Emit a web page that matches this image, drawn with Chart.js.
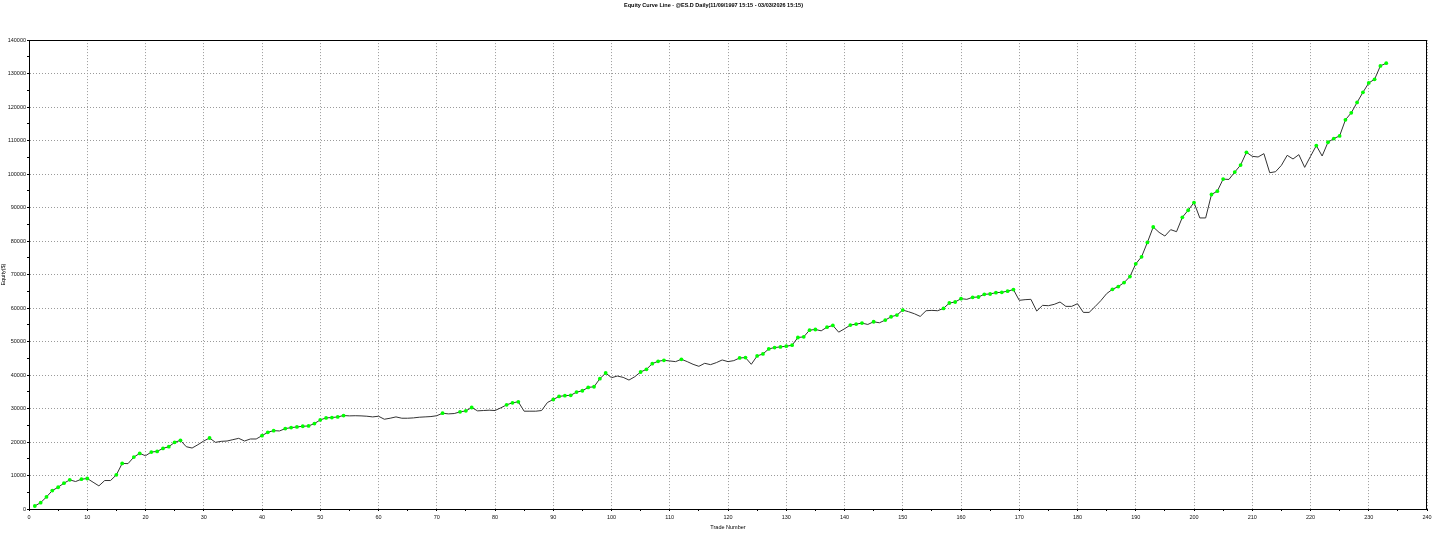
<!DOCTYPE html>
<html>
<head>
<meta charset="utf-8">
<script src="https://cdn.jsdelivr.net/npm/chart.js@4/dist/chart.umd.min.js"></script>
<style>
  html, body { margin: 0; padding: 0; background: #ffffff; }
  #wrap { width: 1456px; height: 535px; }
</style>
</head>
<body>
<div id="wrap"><canvas id="c" width="1456" height="535"></canvas></div>
<script>
const chartTitle = "Equity Curve Line - @ES.D Daily(11/09/1997 15:15 - 03/03/2026 15:15)";
const xAxisTitle = "Trade Number";
const yAxisTitle = "Equity($)";

// Cumulative equity after each trade (trade 1 .. 233)
const equity = [
  900, 1900, 3600, 5500, 6500, 7700, 8700, 8200, 8900, 9100,
  8000, 6900, 8500, 8500, 10200, 13600, 13550, 15500, 16600, 15900,
  17000, 17200, 18100, 18600, 19900, 20500, 18600, 18200, 19200, 20300,
  21200, 19900, 20200, 20300, 20700, 21100, 20300, 20900, 20900, 21900,
  22900, 23400, 23300, 24000, 24300, 24500, 24700, 24800, 25500, 26600,
  27200, 27300, 27500, 27900, 27800, 27850, 27800, 27700, 27500, 27700,
  26800, 27100, 27500, 27100, 27100, 27200, 27400, 27500, 27600, 27850,
  28600, 28400, 28500, 29000, 29300, 30300, 29300, 29400, 29500, 29400,
  30200, 31100, 31700, 32000, 29200, 29200, 29200, 29400, 31800, 32700,
  33600, 33850, 33950, 34900, 35300, 36300, 36500, 38900, 40600, 39200,
  39700, 39300, 38500, 39500, 40900, 41700, 43400, 44100, 44400, 44200,
  44000, 44700, 44000, 43200, 42600, 43500, 43100, 43700, 44500, 44000,
  44300, 45100, 45200, 43200, 45700, 46300, 47800, 48200, 48400, 48600,
  48900, 51200, 51400, 53400, 53600, 53200, 54300, 54800, 52800, 53800,
  54900, 55200, 55500, 55100, 55900, 55600, 56400, 57400, 57900, 59400,
  58900, 58300, 57500, 59200, 59300, 59200, 59900, 61500, 61800, 62800,
  62600, 63200, 63300, 64100, 64200, 64600, 64700, 65050, 65500, 62300,
  62500, 62600, 59100, 60800, 60700, 61100, 61800, 60500, 60500, 61300,
  58700, 58700, 60400, 62200, 64300, 65600, 66400, 67600, 69400, 73200,
  75300, 79600, 84200, 82600, 81500, 83400, 82800, 87100, 89200, 91500,
  86900, 86900, 93900, 94900, 98500, 98400, 100600, 102700, 106500, 105300,
  105100, 106100, 100400, 100700, 102600, 105600, 104500, 105800, 102000, 105300,
  108500, 105400, 109500, 110600, 111400, 116200, 118300, 121400, 124400, 127200,
  128300, 132300, 133100
];

const xTicks = { min: 0, max: 240, major: 10, minor: 5 };
const yTicks = { min: 0, max: 140000, major: 10000, minor: 5000 };

// points: {x: trade number, y: equity}
const points = equity.map((v, i) => ({ x: i + 1, y: v }));
// green markers on new equity highs
const newHigh = [];
let runMax = -Infinity;
equity.forEach(v => { newHigh.push(v > runMax); if (v > runMax) runMax = v; });

const FONT = "'Liberation Sans', Arial, sans-serif";

const frame = {
  id: 'frame',
  afterDraw(chart) {
    const { ctx, chartArea: a } = chart;
    ctx.save();
    ctx.strokeStyle = '#000';
    ctx.lineWidth = 1;
    ctx.strokeRect(Math.round(a.left) + 0.5, Math.round(a.top) + 0.5,
                   Math.round(a.right - a.left) - 1, Math.round(a.bottom - a.top));
    ctx.restore();
  }
};

new Chart(document.getElementById('c'), {
  type: 'line',
  data: {
    datasets: [{
      data: points,
      borderColor: '#333333',
      borderWidth: 1,
      tension: 0,
      pointBackgroundColor: '#00ff00',
      pointBorderColor: '#00ff00',
      pointBorderWidth: 0,
      pointRadius: c => newHigh[c.dataIndex] ? 1.9 : 0,
      pointHoverRadius: 0,
      fill: false
    }]
  },
  options: {
    responsive: false,
    animation: false,
    events: [],
    layout: { padding: { left: 0, right: 29, top: 0, bottom: 0 } },
    plugins: {
      legend: { display: false },
      tooltip: { enabled: false },
      title: {
        display: true,
        text: chartTitle,
        color: '#000',
        font: { family: FONT, size: 5.5, weight: 'bold', lineHeight: 1.2 },
        padding: { top: 2, bottom: 31.5 }
      }
    },
    scales: {
      x: {
        type: 'linear',
        min: xTicks.min, max: xTicks.max,
        afterFit: s => { s.height = 26; },
        afterBuildTicks: s => {
          const t = [];
          for (let v = xTicks.min; v <= xTicks.max; v += xTicks.minor) t.push({ value: v });
          s.ticks = t;
        },
        ticks: {
          autoSkip: false, maxRotation: 0, padding: 3,
          color: '#111',
          font: { family: FONT, size: 5.5 },
          callback: v => (v % xTicks.major === 0 ? String(v) : '')
        },
        grid: {
          color: c => (c.tick && c.tick.value % xTicks.major === 0 ? '#9a9a9a' : 'rgba(0,0,0,0)'),
          lineWidth: 1,
          tickColor: '#000',
          tickLength: 2
        },
        border: { color: '#000', width: 1, dash: [1, 2] },
        title: {
          display: true, text: xAxisTitle, color: '#000',
          font: { family: FONT, size: 5.5 },
          padding: { top: 0, bottom: 4 }
        }
      },
      y: {
        type: 'linear',
        min: yTicks.min, max: yTicks.max,
        afterFit: s => { s.width = 29; },
        afterBuildTicks: s => {
          const t = [];
          for (let v = yTicks.min; v <= yTicks.max; v += yTicks.minor) t.push({ value: v });
          s.ticks = t;
        },
        ticks: {
          autoSkip: false, padding: 1,
          color: '#111',
          font: { family: FONT, size: 5.5 },
          callback: v => (v % yTicks.major === 0 ? String(v) : '')
        },
        grid: {
          color: c => (c.tick && c.tick.value % yTicks.major === 0 ? '#9a9a9a' : 'rgba(0,0,0,0)'),
          lineWidth: 1,
          tickColor: '#000',
          tickLength: 2
        },
        border: { color: '#000', width: 1, dash: [1, 2] },
        title: {
          display: true, text: yAxisTitle, color: '#000',
          font: { family: FONT, size: 5.5 },
          padding: { top: 0.5, bottom: 0 }
        }
      }
    }
  },
  plugins: [frame]
});
</script>
</body>
</html>
